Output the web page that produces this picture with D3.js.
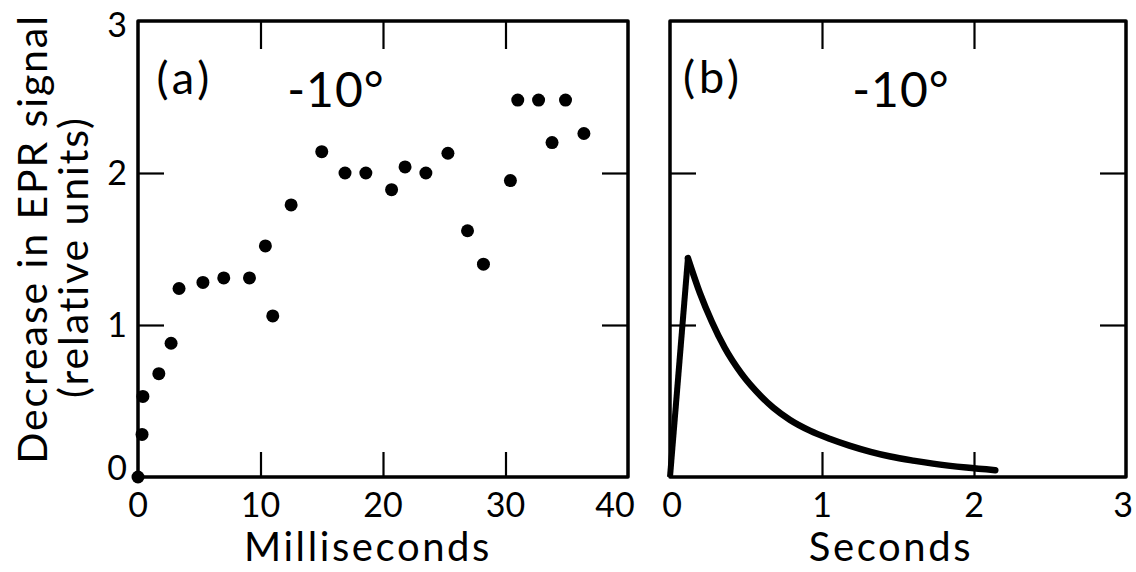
<!DOCTYPE html>
<html>
<head>
<meta charset="utf-8">
<script src="https://cdn.jsdelivr.net/npm/d3@7"></script>
<style>
  body { margin: 0; background: #fff; }
  svg text { font-family: Lato, "Liberation Sans", sans-serif; fill: #000; }
</style>
</head>
<body>
<svg id="chart" width="1136" height="572"></svg>
<script>
// panel (a): milliseconds vs decrease in EPR signal
var msTimes = [0, 0.33, 0.4, 1.7, 2.7, 3.35, 5.3, 7.0, 9.1, 10.4, 11.0, 12.5, 15.0, 16.9, 18.6,
	20.7, 21.8, 23.5, 25.3, 26.9, 28.2, 30.4, 31.0, 32.7, 33.8, 34.9, 36.4];
var msValues = [0, 0.28, 0.53, 0.68, 0.88, 1.24, 1.28, 1.31, 1.31, 1.52, 1.06, 1.79, 2.14, 2.0, 2.0,
	1.89, 2.04, 2.0, 2.13, 1.62, 1.40, 1.95, 2.48, 2.48, 2.20, 2.48, 2.26];

// panel (b): seconds, traced curve
var secTimes = [0, 0.118, 0.197, 0.276, 0.36, 0.47, 0.60, 0.68, 0.79, 0.92, 1.05, 1.18, 1.32, 1.45, 1.60, 1.73, 1.95, 2.14];
var secValues = [0, 1.44, 1.21, 1.02, 0.85, 0.68, 0.53, 0.455, 0.375, 0.305, 0.252, 0.207, 0.166, 0.135, 0.108, 0.088, 0.062, 0.045];

var msTicks = [0, 10, 20, 30, 40];
var secTicks = [0, 1, 2, 3];
var yTicks = [0, 1, 2, 3];

var svg = d3.select('#chart');

var xA = d3.scaleLinear().domain([0, 40]).range([138, 628]);
var xB = d3.scaleLinear().domain([0, 3]).range([670, 1126]);
var y = d3.scaleLinear().domain([0, 3]).range([477, 21]);

function drawFrame(x, inner){
	var g = svg.append('g');

	// inward ticks on all four sides, no labels
	var sides = [
		[d3.axisBottom(x).tickSize(-25), 'translate(0,' + y(0) + ')', inner.x],
		[d3.axisTop(x).tickSize(-28), 'translate(0,' + y(3) + ')', inner.x],
		[d3.axisLeft(y).tickSize(-26), 'translate(' + x.range()[0] + ',0)', inner.y],
		[d3.axisRight(y).tickSize(-26), 'translate(' + x.range()[1] + ',0)', inner.y]
	];
	sides.forEach(function(s){
		var ax = g.append('g')
			.attr('transform', s[1])
			.call(s[0].tickValues(s[2]).tickFormat(''));
		ax.select('.domain').remove();
		ax.selectAll('line').style('stroke', '#000').style('stroke-width', 2.2);
	});

	g.append('rect')
		.attr('x', x.range()[0])
		.attr('y', y(3))
		.attr('width', x.range()[1] - x.range()[0])
		.attr('height', y(0) - y(3))
		.style('fill', 'none')
		.style('stroke', '#000')
		.style('stroke-width', 3.5)
		.style('stroke-linejoin', 'round');
}

drawFrame(xA, {x: [10, 20, 30], y: [1, 2]});
drawFrame(xB, {x: [1, 2], y: [1, 2]});

// dots, panel a
svg.append('g').selectAll('circle')
	.data(msTimes)
	.join('circle')
	.attr('cx', function(d){ return xA(d); })
	.attr('cy', function(d, i){ return y(msValues[i]); })
	.attr('r', 6.5)
	.style('fill', '#000');

// curve, panel b: straight rise then smooth decay
var pts = secTimes.map(function(t, i){ return [xB(t), y(secValues[i])]; });
svg.append('path')
	.attr('d', d3.line()(pts.slice(0, 2)))
	.style('fill', 'none').style('stroke', '#000').style('stroke-width', 6)
	.style('stroke-linejoin', 'round');
svg.append('path')
	.attr('d', d3.line().curve(d3.curveMonotoneX)(pts.slice(1)))
	.style('fill', 'none').style('stroke', '#000').style('stroke-width', 6.5)
	.style('stroke-linecap', 'round');

// tick labels
svg.append('g').selectAll('text')
	.data(yTicks)
	.join('text')
	.attr('x', 117)
	.attr('y', function(d){ return Math.min(Math.max(y(d), 25), 468) + 12; })
	.attr('text-anchor', 'middle')
	.style('font-size', '34px')
	.text(function(d){ return d; });

svg.append('g').selectAll('text')
	.data(msTicks)
	.join('text')
	.attr('x', function(d){ return Math.min(xA(d), 615); })
	.attr('y', 517)
	.attr('text-anchor', 'middle')
	.style('font-size', '34px')
	.text(function(d){ return d; });

svg.append('g').selectAll('text')
	.data(secTicks)
	.join('text')
	.attr('x', function(d){ return Math.min(Math.max(xB(d), 672), 1123); })
	.attr('y', 517)
	.attr('text-anchor', 'middle')
	.style('font-size', '34px')
	.text(function(d){ return d; });

// axis titles
svg.append('text').attr('x', 368).attr('y', 561).attr('text-anchor', 'middle')
	.style('font-size', '40px').style('letter-spacing', '2.6px').text('Milliseconds');
svg.append('text').attr('x', 891).attr('y', 561).attr('text-anchor', 'middle')
	.style('font-size', '40px').style('letter-spacing', '2.6px').text('Seconds');

svg.append('text')
	.attr('transform', 'translate(47,239) rotate(-90)')
	.attr('text-anchor', 'middle')
	.style('font-size', '41px')
	.style('letter-spacing', '1.9px')
	.text('Decrease in EPR signal');
svg.append('text')
	.attr('transform', 'translate(88,257) rotate(-90)')
	.attr('text-anchor', 'middle')
	.style('font-size', '41px')
	.style('letter-spacing', '1.9px')
	.text('(relative units)');

// panel labels
var notes = [
	{t: '(a)', x: 185, y: 94, s: 45, ls: 4},
	{t: '-10°', x: 336, y: 107, s: 48, ls: 1},
	{t: '(b)', x: 713, y: 93, s: 45, ls: 4},
	{t: '-10°', x: 901, y: 107, s: 48, ls: 1}
];
svg.append('g').selectAll('text')
	.data(notes)
	.join('text')
	.attr('x', function(d){ return d.x; })
	.attr('y', function(d){ return d.y; })
	.attr('text-anchor', 'middle')
	.style('font-size', function(d){ return d.s + 'px'; })
	.style('letter-spacing', function(d){ return d.ls + 'px'; })
	.text(function(d){ return d.t; });
</script>
</body>
</html>
